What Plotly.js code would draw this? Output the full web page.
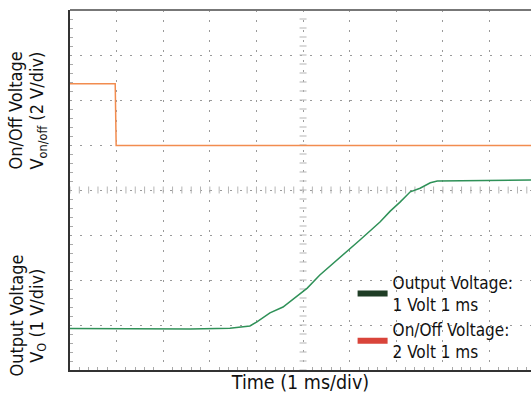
<!DOCTYPE html>
<html>
<head>
<meta charset="utf-8">
<script src="https://cdn.plot.ly/plotly-3.0.1.min.js"></script>
<style>html,body{margin:0;padding:0;background:#fff;}#chart{width:531px;height:402px;}</style>
</head>
<body>
<div id="chart"></div>
<script>
// Time axis in ms (1 ms/div); vertical values in screen divisions (8 div tall)
var outTime = [0, 2.58, 3.43, 3.86, 4.01, 4.29, 4.57, 4.87, 5.09, 5.36, 5.79, 6.22, 6.65, 6.87, 7.08, 7.30, 7.51, 7.73, 7.88, 8.80, 9.89];
var outDiv  = [0.92, 0.91, 0.93, 0.98, 1.07, 1.27, 1.40, 1.64, 1.82, 2.11, 2.49, 2.89, 3.29, 3.53, 3.73, 3.96, 4.04, 4.16, 4.20, 4.21, 4.22];
var onoffTime = [0, 0.97, 0.99, 9.89];
var onoffDiv  = [6.36, 6.36, 4.99, 4.99];
var legendNames = ["Output Voltage:<br>1 Volt 1 ms", "On/Off Voltage:<br>2 Volt 1 ms"];
var legendColors = ["#1f3d25", "#d9443a"];
var xTitle = "Time (1 ms/div)";
var yTitlesTop = ["On/Off Voltage", "V<sub>on/off</sub> (2 V/div)"];
var yTitlesBottom = ["Output Voltage", "V<sub>O</sub> (1 V/div)"];

var FONT = '"DejaVu Sans Condensed", "Liberation Sans Narrow", Arial, sans-serif';

// minor division ticks along the centre cross (5 per division)
var crossX = [], crossXy = [], crossY = [], crossYx = [];
for (var i = 0; i <= 50; i++) { crossX.push(i * 0.2); crossXy.push(4); }
for (var j = 0; j <= 40; j++) { crossY.push(j * 0.2); crossYx.push(5); }

var traces = [
  {x: crossX, y: crossXy, mode: 'markers', marker: {symbol: 'line-ns', size: 5, line: {color: '#b5b5b5', width: 1}}, showlegend: false, hoverinfo: 'skip'},
  {x: crossYx, y: crossY, mode: 'markers', marker: {symbol: 'line-ew', size: 5, line: {color: '#b5b5b5', width: 1}}, showlegend: false, hoverinfo: 'skip'},
  {x: outTime, y: outDiv, mode: 'lines', line: {color: '#2f9158', width: 1.5}, showlegend: false, hoverinfo: 'skip'},
  {x: onoffTime, y: onoffDiv, mode: 'lines', line: {color: '#f28c4f', width: 1.5}, showlegend: false, hoverinfo: 'skip'},
  {x: [null], y: [null], mode: 'lines', name: legendNames[0], line: {color: legendColors[0], width: 6}},
  {x: [null], y: [null], mode: 'lines', name: legendNames[1], line: {color: legendColors[1], width: 6}}
];

var annotations = [];
function yTitle(lines, ycenter) {
  annotations.push({xref: 'paper', yref: 'paper', x: -0.118, y: ycenter, text: lines[0], showarrow: false, textangle: -90, xanchor: 'center', yanchor: 'middle', font: {family: FONT, size: 18, color: '#111'}});
  annotations.push({xref: 'paper', yref: 'paper', x: -0.07, y: ycenter, text: lines[1], showarrow: false, textangle: -90, xanchor: 'center', yanchor: 'middle', font: {family: FONT, size: 18, color: '#111'}});
}
yTitle(yTitlesTop, 0.72);
yTitle(yTitlesBottom, 0.15);

var layout = {
  width: 531, height: 402,
  margin: {l: 70, r: 0, t: 10, b: 32},
  paper_bgcolor: '#fff', plot_bgcolor: '#fff',
  showlegend: true,
  legend: {x: 0.613, xanchor: 'left', y: 0.0, yanchor: 'bottom', bgcolor: 'rgba(0,0,0,0)', font: {family: FONT, size: 17, color: '#111'}, tracegroupgap: 0},
  xaxis: {range: [0, 9.89], dtick: 1, tick0: 0, showticklabels: false, ticks: '', showgrid: true, gridcolor: '#9a9a9a', griddash: '2px,8px', gridwidth: 1,
          zeroline: false, showline: true, linecolor: '#333', linewidth: 2, mirror: false,
          minor: {dtick: 0.2, ticks: 'inside', ticklen: 3, tickcolor: '#aaa', showgrid: false},
          title: {text: xTitle, font: {family: FONT, size: 19.5, color: '#111'}, standoff: 4}, fixedrange: true},
  yaxis: {range: [0, 8], dtick: 1, tick0: 0, showticklabels: false, ticks: '', showgrid: true, gridcolor: '#9a9a9a', griddash: '2px,8px', gridwidth: 1,
          zeroline: false, showline: true, linecolor: '#333', linewidth: 2, mirror: false,
          minor: {dtick: 0.2, ticks: 'inside', ticklen: 3, tickcolor: '#aaa', showgrid: false}, fixedrange: true},
  shapes: [
    {type: 'line', xref: 'paper', yref: 'paper', x0: 0, x1: 1, y0: 1, y1: 1, line: {color: '#777', width: 2}}
  ],
  annotations: annotations
};

Plotly.newPlot('chart', traces, layout, {staticPlot: true});
</script>
</body>
</html>
